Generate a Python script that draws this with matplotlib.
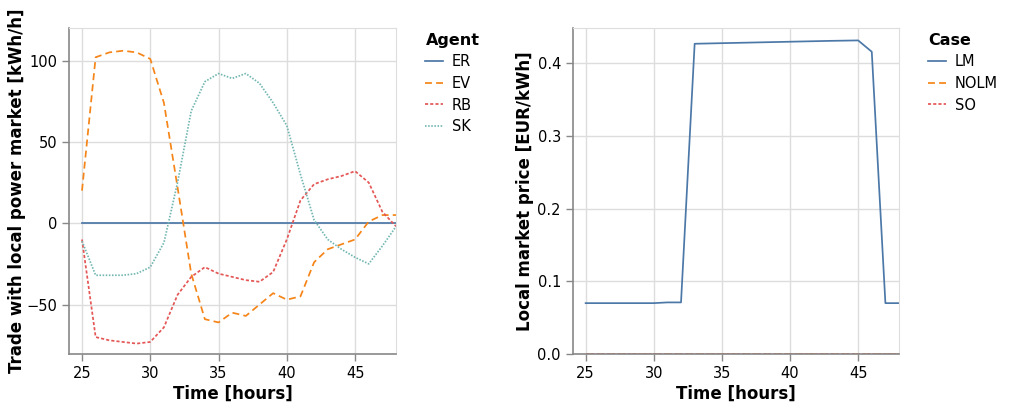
import matplotlib
matplotlib.use("Agg")
import matplotlib.pyplot as plt

plt.rcParams['font.family'] = ['DejaVu Sans']

# hours on the x axis
hours = list(range(25, 49))

# trade with local power market [kWh/h], one list per agent
er = [0] * 24
ev = [20, 102, 105, 106, 105, 101, 74, 22, -31, -59, -61, -55, -57, -50, -43, -47, -45,
      -24, -16, -13, -10, 1, 5, 5]
rb = [-10, -70, -72, -73, -74, -73, -64, -44, -33, -27, -31, -33, -35, -36, -30, -10,
      14, 24, 27, 29, 32, 25, 7, -2]
sk = [-11, -32, -32, -32, -31, -27, -12, 25, 69, 87, 92, 89, 92, 86, 74, 60, 30, 2,
      -10, -16, -21, -25, -14, -2]

# local market price [EUR/kWh], one list per case
lm = [0.070, 0.070, 0.070, 0.070, 0.070, 0.070, 0.071, 0.071, 0.427, 0.4274, 0.4278,
      0.4282, 0.4286, 0.429, 0.4294, 0.4298, 0.4302, 0.4306, 0.431, 0.4313, 0.4316,
      0.416, 0.070, 0.070]
nolm = [0.0] * 24
so = [0.0] * 24

blue = '#4c78a8'
orange = '#f58518'
red = '#e45756'
teal = '#72b7b2'
lw = 1.25

fig = plt.figure(figsize=(10.09, 4.11), dpi=100)
ax1 = fig.add_axes([0.0684, 0.1387, 0.3241, 0.7932])
ax2 = fig.add_axes([0.5676, 0.1387, 0.3234, 0.7932])


def style_axis(ax):
    ax.grid(True, color='#dddddd', linewidth=1)
    ax.set_axisbelow(True)
    for s in ['top', 'right']:
        ax.spines[s].set_color('#dddddd')
    for s in ['left', 'bottom']:
        ax.spines[s].set_color('#888888')
        ax.spines[s].set_linewidth(1.2)
    ax.tick_params(colors='#888888', labelcolor='black', length=5, width=1,
                   labelsize=10.5)
    ax.set_xticks([25, 30, 35, 40, 45])
    ax.set_xlim(24.05, 48)
    ax.set_xlabel('Time [hours]', fontsize=12, fontweight='bold', labelpad=3)


def style_legend(ax, title):
    leg = ax.legend(loc='upper left', bbox_to_anchor=(1.09, 0.985), frameon=False,
                    title=title, fontsize=10.5, handlelength=1.2,
                    labelspacing=0.45, handletextpad=0.6, borderpad=0,
                    borderaxespad=0)
    leg.get_title().set_fontweight('bold')
    leg.get_title().set_fontsize(11.5)
    leg._legend_box.align = 'left'
    return leg


# left: trades per agent
ax1.plot(hours, er, color=blue, lw=lw, label='ER')
ax1.plot(hours, ev, color=orange, lw=lw, dashes=(4, 2.4), label='EV')
ax1.plot(hours, rb, color=red, lw=lw, dashes=(1.8, 1.2), label='RB')
ax1.plot(hours, sk, color=teal, lw=lw, dashes=(0.9, 0.9), label='SK')
style_axis(ax1)
ax1.set_ylim(-80.4, 120)
ax1.set_yticks([-50, 0, 50, 100])
ax1.set_ylabel('Trade with local power market [kWh/h]', fontsize=12,
               fontweight='bold')
ax1.yaxis.set_label_coords(-0.131, 0.5)
style_legend(ax1, 'Agent')

# right: market price per case
ax2.plot(hours, lm, color=blue, lw=lw, label='LM')
ax2.plot(hours, nolm, color=orange, lw=lw, dashes=(4, 2.4), label='NOLM')
ax2.plot(hours, so, color=red, lw=lw, dashes=(1.8, 1.2), label='SO')
style_axis(ax2)
ax2.set_ylim(0, 0.4487)
ax2.set_yticks([0.0, 0.1, 0.2, 0.3, 0.4])
ax2.set_yticklabels(['0.0', '0.1', '0.2', '0.3', '0.4'])
ax2.set_ylabel('Local market price [EUR/kWh]', fontsize=12, fontweight='bold')
ax2.yaxis.set_label_coords(-0.119, 0.5)
style_legend(ax2, 'Case')

fig.savefig('out.png', dpi=100)
